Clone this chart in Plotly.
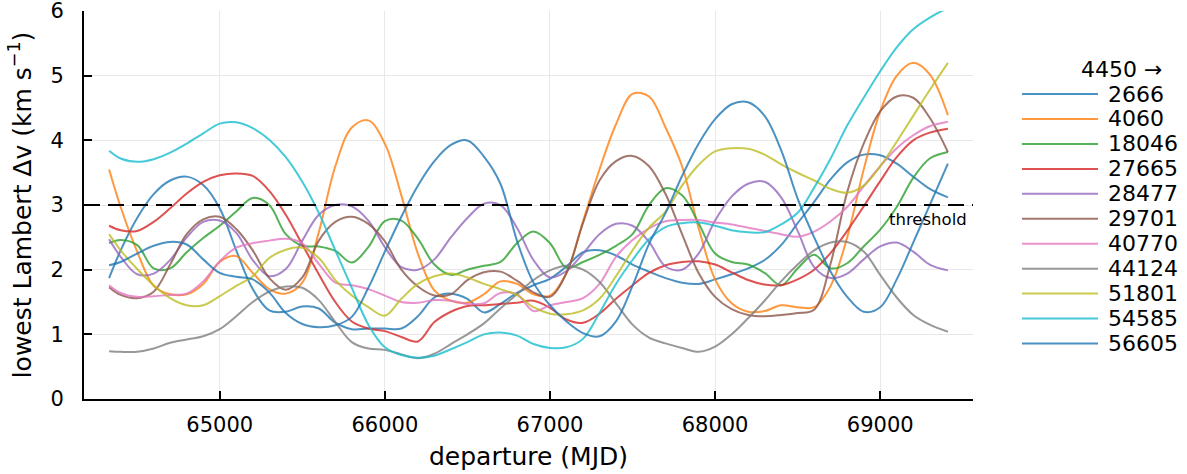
import plotly.graph_objects as go

# departure epochs (MJD) at which the curves were sampled
mjd = [64330, 64400, 64500, 64600, 64700, 64800, 64900, 65000, 65100, 65200,
       65300, 65400, 65500, 65600, 65700, 65800, 65900, 66000, 66100, 66200,
       66300, 66400, 66500, 66600, 66700, 66800, 66900, 67000, 67100, 67200,
       67300, 67400, 67500, 67600, 67700, 67800, 67900, 68000, 68100, 68200,
       68300, 68400, 68500, 68600, 68700, 68800, 68900, 69000, 69100, 69200,
       69300, 69410]

s2666 = [1.87, 2.30, 2.80, 3.17, 3.38, 3.44, 3.31, 2.95, 2.30, 1.70,
         1.37, 1.35, 1.43, 1.40, 1.18, 1.08, 1.09, 1.09, 1.09, 1.28,
         1.57, 1.63, 1.55, 1.34, 1.47, 1.64, 1.76, 1.86, 2.05, 2.27,
         2.30, 2.22, 2.08, 1.97, 1.87, 1.80, 1.78, 1.85, 1.93, 2.02,
         2.15, 2.38, 2.72, 3.05, 3.40, 3.66, 3.78, 3.77, 3.64, 3.44,
         3.25, 3.12]
s4060 = [3.55, 2.97, 2.28, 1.75, 1.62, 1.62, 1.78, 2.12, 2.21, 1.95,
         1.70, 1.63, 1.80, 2.58, 3.60, 4.20, 4.31, 3.95, 3.15, 2.25,
         1.68, 1.52, 1.49, 1.62, 1.82, 1.78, 1.62, 1.60, 1.95, 2.75,
         3.55, 4.25, 4.72, 4.68, 4.20, 3.60, 2.65, 1.85, 1.48, 1.35,
         1.36, 1.45, 1.42, 1.42, 1.75, 2.50, 3.55, 4.45, 5.00, 5.20,
         5.02, 4.39]
s18046 = [2.41, 2.46, 2.38, 2.02, 2.02, 2.27, 2.49, 2.68, 2.90, 3.11,
          3.00, 2.55, 2.37, 2.36, 2.29, 2.11, 2.35, 2.75, 2.76, 2.48,
          2.08, 1.92, 2.00, 2.06, 2.12, 2.41, 2.59, 2.41, 2.03, 2.12,
          2.23, 2.37, 2.55, 3.00, 3.26, 3.15, 2.72, 2.25, 2.12, 2.08,
          1.95, 1.76, 2.02, 2.23, 2.02, 2.10, 2.36, 2.62, 2.97, 3.42,
          3.72, 3.82]
s27665 = [2.68, 2.61, 2.60, 2.74, 2.95, 3.18, 3.36, 3.46, 3.49, 3.45,
          3.22, 2.85, 2.39, 1.93, 1.50, 1.20, 1.09, 1.05, 0.96, 0.89,
          1.19, 1.35, 1.44, 1.45, 1.47, 1.49, 1.52, 1.41, 1.23, 1.18,
          1.32, 1.55, 1.76, 1.95, 2.07, 2.12, 2.13, 2.08, 1.96, 1.84,
          1.77, 1.76, 1.85, 2.00, 2.26, 2.60, 2.98, 3.37, 3.74, 4.00,
          4.12, 4.18]
s28477 = [2.47, 2.20, 1.93, 1.94, 2.15, 2.50, 2.74, 2.76, 2.57, 2.15,
          1.90, 2.01, 2.45, 2.85, 3.00, 2.98, 2.76, 2.35, 2.04, 2.00,
          2.16, 2.50, 2.80, 3.02, 3.00, 2.65, 2.15, 1.88, 1.98, 2.25,
          2.55, 2.71, 2.68, 2.43, 2.05, 2.00, 2.25, 2.76, 3.13, 3.33,
          3.36, 3.12, 2.60, 2.04, 1.87, 1.94, 2.16, 2.36, 2.42, 2.28,
          2.08, 1.99]
s29701 = [1.73, 1.61, 1.56, 1.66, 2.08, 2.55, 2.78, 2.82, 2.63, 2.30,
          1.87, 1.69, 1.88, 2.45, 2.74, 2.82, 2.71, 2.44, 2.00, 1.74,
          1.60, 1.62, 1.84, 1.96, 1.97, 1.83, 1.65, 1.58, 1.95, 2.72,
          3.38, 3.68, 3.76, 3.60, 3.17, 2.55, 1.95, 1.58, 1.39, 1.30,
          1.28, 1.30, 1.33, 1.38, 2.10, 3.20, 3.95, 4.45, 4.68, 4.66,
          4.35, 3.82]
s40770 = [1.76, 1.64, 1.58, 1.59, 1.61, 1.63, 1.82, 2.13, 2.34, 2.41,
          2.45, 2.48, 2.41, 2.09, 1.80, 1.76, 1.70, 1.60, 1.50, 1.49,
          1.53, 1.52, 1.47, 1.48, 1.64, 1.62, 1.36, 1.45, 1.50, 1.56,
          1.78, 2.20, 2.46, 2.64, 2.75, 2.77, 2.77, 2.73, 2.70, 2.65,
          2.60, 2.55, 2.51, 2.59, 2.75, 2.97, 3.29, 3.60, 3.88, 4.08,
          4.22, 4.29]
s44124 = [0.74, 0.73, 0.73, 0.78, 0.87, 0.92, 0.97, 1.08, 1.28, 1.50,
          1.66, 1.74, 1.72, 1.53, 1.19, 0.88, 0.78, 0.76, 0.69, 0.63,
          0.70, 0.85, 1.00, 1.17, 1.40, 1.62, 1.84, 1.99, 2.06, 2.00,
          1.81, 1.48, 1.15, 0.95, 0.86, 0.79, 0.73, 0.81, 1.00, 1.25,
          1.52, 1.82, 2.08, 2.30, 2.42, 2.43, 2.28, 1.92, 1.57, 1.30,
          1.15, 1.04]
s51801 = [2.55, 2.30, 2.01, 1.76, 1.56, 1.45, 1.45, 1.59, 1.75, 1.90,
          2.18, 2.31, 2.34, 2.18, 1.84, 1.60, 1.42, 1.29, 1.55, 1.78,
          1.90, 1.94, 1.88, 1.78, 1.70, 1.61, 1.42, 1.32, 1.31, 1.37,
          1.55, 1.90, 2.30, 2.65, 2.90, 3.30, 3.62, 3.83, 3.88, 3.87,
          3.78, 3.63, 3.50, 3.38, 3.25, 3.19, 3.30, 3.60, 3.98, 4.38,
          4.78, 5.20]
s54585 = [3.84, 3.72, 3.67, 3.71, 3.81, 3.95, 4.11, 4.26, 4.28, 4.19,
          4.01, 3.74, 3.36, 2.88, 2.30, 1.72, 1.15, 0.80, 0.68, 0.64,
          0.67, 0.77, 0.88, 1.00, 1.03, 0.98, 0.85, 0.79, 0.80, 0.93,
          1.33, 1.78, 2.15, 2.47, 2.66, 2.72, 2.73, 2.68, 2.61, 2.58,
          2.58, 2.70, 2.88, 3.27, 3.72, 4.23, 4.66, 5.07, 5.44, 5.72,
          5.90, 6.05]
s56605 = [2.07, 2.12, 2.25, 2.37, 2.43, 2.39, 2.16, 1.95, 1.89, 1.85,
          1.65, 1.33, 1.16, 1.11, 1.14, 1.27, 1.72, 2.28, 2.82, 3.30,
          3.68, 3.93, 4.00, 3.75, 3.33, 2.45, 1.80, 1.45, 1.20, 1.02,
          0.97, 1.20, 1.75, 2.40, 2.88, 3.45, 3.95, 4.33, 4.56, 4.59,
          4.38, 3.85, 3.10, 2.50, 1.97, 1.58, 1.35, 1.42, 1.85, 2.42,
          3.00, 3.64]

target_names = ["2666", "4060", "18046", "27665", "28477", "29701",
                "40770", "44124", "51801", "54585", "56605"]
series = [s2666, s4060, s18046, s27665, s28477, s29701,
          s40770, s44124, s51801, s54585, s56605]
colors = ["#1f77b4", "#ff7f0e", "#2ca02c", "#d62728", "#9467bd", "#8c564b",
          "#e377c2", "#7f7f7f", "#bcbd22", "#17becf", "#1f77b4"]
x_ticks = [65000, 66000, 67000, 68000, 69000]
y_ticks = [0, 1, 2, 3, 4, 5, 6]
THRESHOLD = 3.0
origin = "4450"

FONT = "DejaVu Sans"
ALPHA = 0.8

fig = go.Figure()
for name, ys, c in zip(target_names, series, colors):
    fig.add_trace(go.Scatter(
        x=mjd, y=ys, name=name, mode="lines",
        line=dict(color=c, width=2, shape="spline", smoothing=1.0),
        opacity=ALPHA, showlegend=False,
    ))

fig.add_hline(y=THRESHOLD, line=dict(color="black", width=2, dash="16px,8px"))
fig.add_annotation(x=69290, y=2.77, text="threshold", showarrow=False,
                   font=dict(family=FONT, size=16.5, color="black"))

# legend drawn at the right of the axes (paper coordinates)
leg_x0, leg_x1, leg_tx = 1.0551, 1.1406, 1.1500
leg_top, leg_step = 0.786, 0.0643
fig.add_annotation(xref="paper", yref="paper", x=1.1665, y=0.848,
                   text=origin + " →", showarrow=False, xanchor="center", yanchor="middle",
                   font=dict(family=FONT, size=22, color="black"))
for i, (name, c) in enumerate(zip(target_names, colors)):
    yy = leg_top - i * leg_step
    fig.add_shape(type="line", xref="paper", yref="paper", x0=leg_x0, x1=leg_x1,
                  y0=yy, y1=yy, line=dict(color=c, width=2), opacity=ALPHA)
    fig.add_annotation(xref="paper", yref="paper", x=leg_tx, y=yy, text=name,
                       showarrow=False, xanchor="left", yanchor="middle",
                       font=dict(family=FONT, size=22, color="black"))

axis_common = dict(
    showgrid=True, gridcolor="#e8e8e8", gridwidth=1,
    showline=True, linecolor="black", linewidth=2,
    ticks="inside", ticklen=8, tickwidth=2, tickcolor="black",
    zeroline=False, mirror=False, automargin=False,
    ticklabeloverflow="allow",
    tickfont=dict(family=FONT, size=21, color="black"),
)

fig.update_layout(
    width=1187, height=474,
    margin=dict(l=84, r=214, t=11, b=75),
    plot_bgcolor="white", paper_bgcolor="white",
    font=dict(family=FONT, color="black"),
    xaxis=dict(range=[64178, 69562], tickvals=x_ticks, tickformat="d",
               title=dict(text="departure (MJD)", font=dict(family=FONT, size=25), standoff=11),
               ticklabelstandoff=6, **axis_common),
    yaxis=dict(range=[0, 6.002], tickvals=y_ticks, tickformat="d",
               title=dict(text="lowest Lambert Δv (km s<sup>−1</sup>)", font=dict(family=FONT, size=25), standoff=12),
               ticklabelstandoff=14, **axis_common),
    showlegend=False,
)

fig.write_html("out.html", config={"displayModeBar": False},
               post_script="document.body.style.margin='0px';")
